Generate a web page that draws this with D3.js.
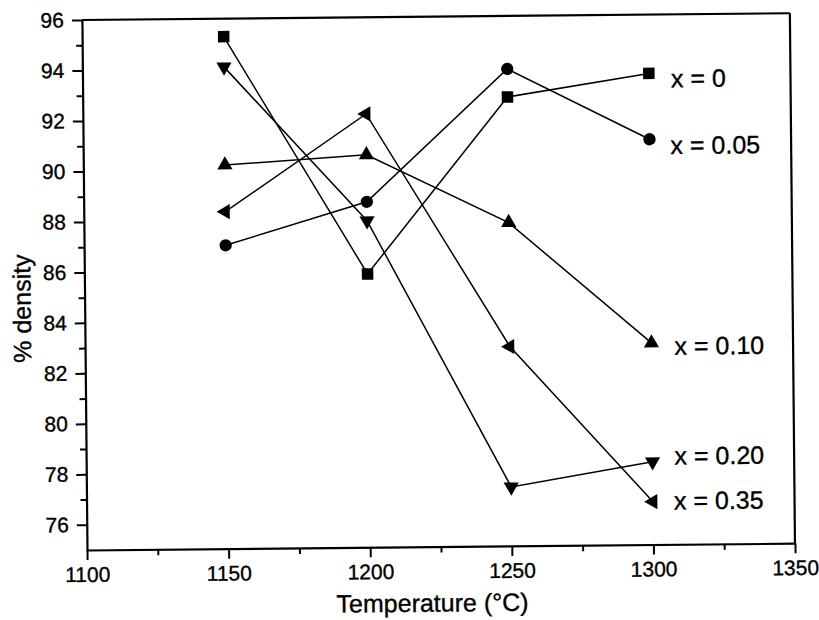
<!DOCTYPE html>
<html>
<head>
<meta charset="utf-8">
<script src="https://cdn.jsdelivr.net/npm/d3@7"></script>
<style>
  html, body { margin: 0; padding: 0; background: #fff; }
  svg { display: block; }
  text { font-family: "Liberation Sans", Arial, sans-serif; fill: #000; stroke: #000; stroke-width: 0.35px; }
</style>
</head>
<body>
<svg id="chart" width="819" height="620"></svg>
<script>
// ---- data ----
const temperatures = [1150, 1200, 1250, 1300];
const seriesNames = ["x = 0", "x = 0.05", "x = 0.10", "x = 0.20", "x = 0.35"];
const densityX000 = [95.29, 85.83, 92.79, 93.67];
const densityX005 = [87.02, 88.69, 93.90, 91.06];
const densityX010 = [90.20, 90.55, 87.81, 82.99];
const densityX020 = [94.09, 87.94, 77.34, 78.28];
const densityX035 = [88.35, 92.17, 82.90, 76.70];
const xTickValues = [1100, 1150, 1200, 1250, 1300, 1350];
const yTickValues = [76, 78, 80, 82, 84, 86, 88, 90, 92, 94, 96];
const xLabel = "Temperature (°C)";
const yLabel = "% density";

// ---- layout ----
const W = 819, H = 620;
const plot = { left: 87, right: 795, top: 20, bottom: 550 };
const markerKinds = ["square", "circle", "up", "down", "left"];
const labelOffsets = [[22, 14], [21, 15], [23, 12], [22, 3], [21, 8]];

const allSeries = [densityX000, densityX005, densityX010, densityX020, densityX035];

const svg = d3.select("#chart");
svg.append("rect").attr("width", W).attr("height", H).attr("fill", "#fff");

// slight scan tilt of the whole figure
const g = svg.append("g").attr("transform", `rotate(-0.55, ${plot.left}, ${plot.bottom})`);

const x = d3.scaleLinear().domain([1100, 1350]).range([plot.left, plot.right]);
const y = d3.scaleLinear().domain([75, 96]).range([plot.bottom, plot.top]);

// minor ticks
const xMinor = d3.range(1125, 1350, 50);
const yMinor = d3.range(75, 96, 2).filter(v => v > 75);

g.append("g")
  .attr("transform", `translate(0,${plot.bottom})`)
  .call(d3.axisBottom(x).tickValues(xMinor).tickSize(6).tickSizeOuter(0).tickFormat(""))
  .call(a => a.select(".domain").remove())
  .call(a => a.selectAll("line").attr("stroke-width", 2));

g.append("g")
  .attr("transform", `translate(${plot.left},0)`)
  .call(d3.axisLeft(y).tickValues(yMinor).tickSize(6).tickSizeOuter(0).tickFormat(""))
  .call(a => a.select(".domain").remove())
  .call(a => a.selectAll("line").attr("stroke-width", 2));

// major axes
const xAxis = g.append("g")
  .attr("transform", `translate(0,${plot.bottom})`)
  .call(d3.axisBottom(x).tickValues(xTickValues).tickSize(10).tickSizeOuter(0).tickPadding(7).tickFormat(d3.format("d")));
xAxis.selectAll("line").attr("stroke-width", 2);
xAxis.select(".domain").attr("stroke-width", 2.2);
xAxis.selectAll("text").attr("font-size", 21).attr("font-family", "Liberation Sans, Arial, sans-serif");

const yAxis = g.append("g")
  .attr("transform", `translate(${plot.left},0)`)
  .call(d3.axisLeft(y).tickValues(yTickValues).tickSize(10).tickSizeOuter(0).tickPadding(8).tickFormat(d3.format("d")));
yAxis.selectAll("line").attr("stroke-width", 2);
yAxis.select(".domain").attr("stroke-width", 2.2);
yAxis.selectAll("text").attr("font-size", 21).attr("font-family", "Liberation Sans, Arial, sans-serif");

// top and right frame
g.append("line").attr("x1", x(1100)).attr("x2", x(1350)).attr("y1", y(96)).attr("y2", y(96))
  .attr("stroke", "#000").attr("stroke-width", 2.2);
g.append("line").attr("x1", x(1350)).attr("x2", x(1350)).attr("y1", y(96)).attr("y2", y(75))
  .attr("stroke", "#000").attr("stroke-width", 2.2);

// axis titles
g.append("text")
  .attr("x", 432).attr("y", 615)
  .attr("text-anchor", "middle")
  .attr("font-size", 25)
  .text(xLabel);

g.append("text")
  .attr("transform", "translate(33,308) rotate(-90)")
  .attr("text-anchor", "middle")
  .attr("font-size", 25)
  .text(yLabel);

// series
const line = d3.line().x(d => x(d[0])).y(d => y(d[1]));
const symbolFor = kind => {
  if (kind === "square") return d3.symbol(d3.symbolSquare, 132)();
  if (kind === "circle") return d3.symbol(d3.symbolCircle, 119)();
  return d3.symbol(d3.symbolTriangle, 100)();
};
const rotFor = kind => kind === "down" ? 180 : kind === "left" ? -90 : 0;

allSeries.forEach((vals, i) => {
  const pts = temperatures.map((t, j) => [t, vals[j]]);
  g.append("path")
    .attr("d", line(pts))
    .attr("fill", "none")
    .attr("stroke", "#000")
    .attr("stroke-width", 1.5);
});

allSeries.forEach((vals, i) => {
  const kind = markerKinds[i];
  g.append("g").selectAll("path")
    .data(temperatures.map((t, j) => [t, vals[j]]))
    .join("path")
    .attr("d", symbolFor(kind))
    .attr("transform", d => `translate(${x(d[0])},${y(d[1])}) rotate(${rotFor(kind)})`)
    .attr("fill", "#000");

  const last = vals[vals.length - 1];
  g.append("text")
    .attr("x", x(temperatures[temperatures.length - 1]) + labelOffsets[i][0])
    .attr("y", y(last) + labelOffsets[i][1])
    .attr("font-size", 25)
    .text(seriesNames[i]);
});
</script>
</body>
</html>
